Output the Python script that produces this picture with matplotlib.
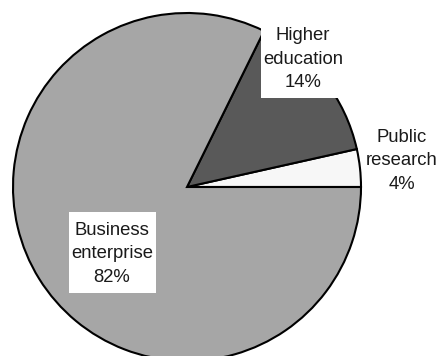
import matplotlib
matplotlib.use("Agg")
import matplotlib.pyplot as plt
from matplotlib.patches import Rectangle

plt.rcParams["font.family"] = ["Liberation Sans", "DejaVu Sans"]

# sectors, counter-clockwise from 3 o'clock
sectors = ["Public\nresearch", "Higher\neducation", "Business\nenterprise"]
shares = [3.5, 14.2, 82.3]
colors = ["#f7f7f7", "#595959", "#a6a6a6"]

# label anchor points (in pie radius units)
label_pos = [(1.236, 0.15), (0.667, 0.735), (-0.431, -0.385)]

R = 174.0  # pie radius in pixels
fig = plt.figure(figsize=(4.37, 3.56), dpi=100)
ax = fig.add_axes([0, 0, 1, 1])

wedges, _ = ax.pie(
    shares,
    colors=colors,
    startangle=0,
    counterclock=True,
    wedgeprops={"edgecolor": "black", "linewidth": 1.5},
)

for name, val, (x, y) in zip(sectors, shares, label_pos):
    ax.text(
        x, y, f"{name}\n{val:.0f}%",
        ha="center", va="center", fontsize=13.3, color="#1a1a1a",
        linespacing=1.5, zorder=5,
    )

# white boxes behind the higher education and business labels
ax.add_patch(Rectangle((74 / R, 89 / R), 85 / R, 100 / R,
                       facecolor="white", edgecolor="none", zorder=4))
ax.add_patch(Rectangle((-118 / R, -106 / R), 87 / R, 81 / R,
                       facecolor="white", edgecolor="none", zorder=4))

ax.set_xlim(-187 / R, 250 / R)
ax.set_ylim(-169 / R, 187 / R)
ax.set_aspect("auto")
ax.axis("off")

fig.savefig("out.png", dpi=100)
